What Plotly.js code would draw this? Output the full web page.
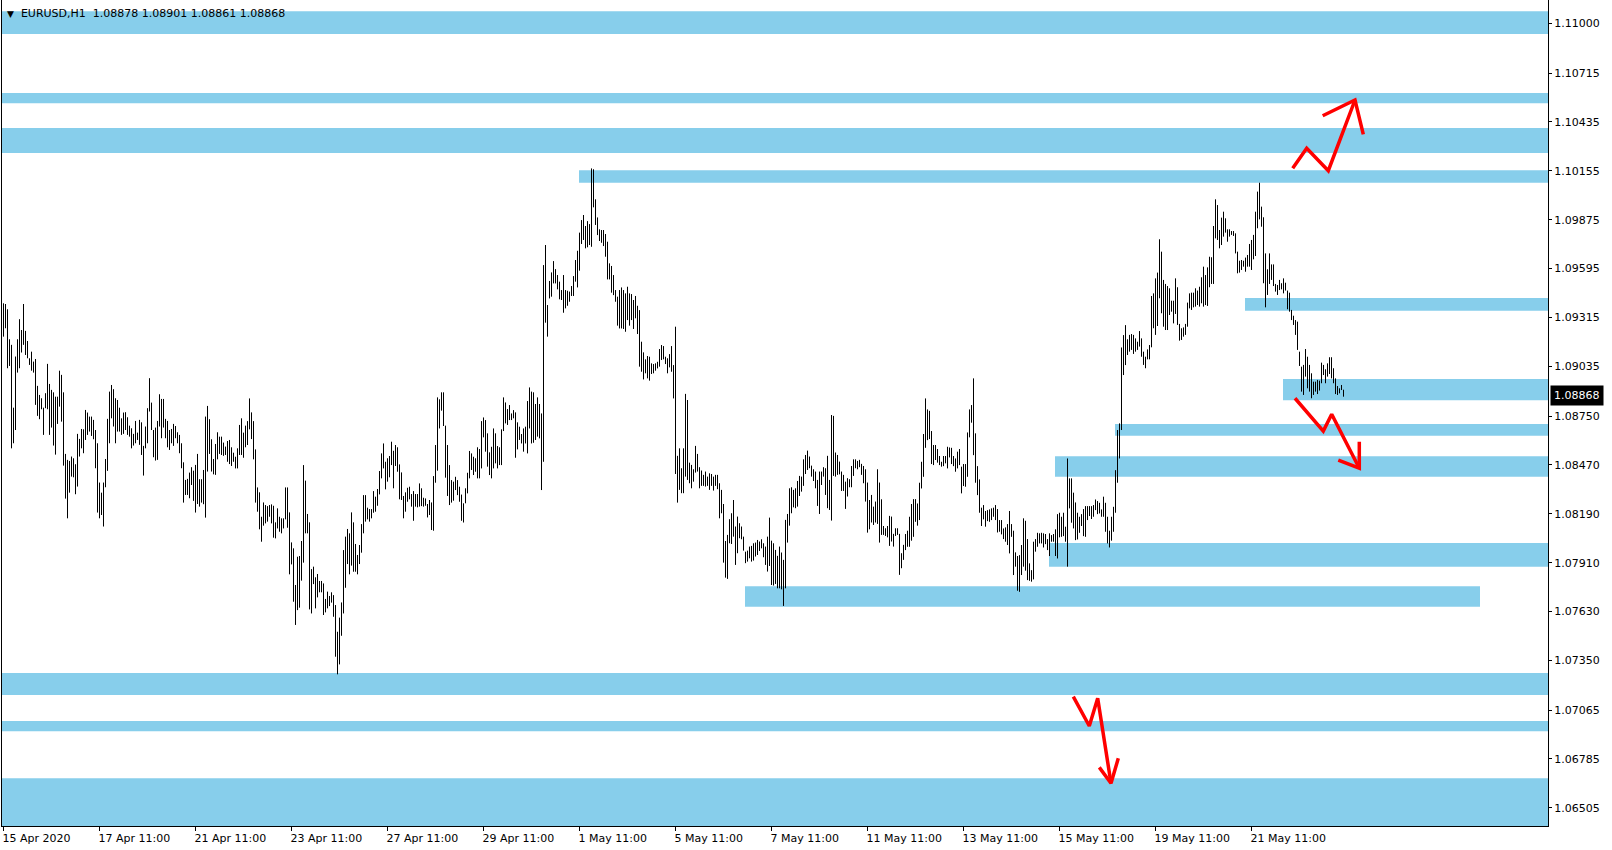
<!DOCTYPE html>
<html>
<head>
<meta charset="utf-8">
<script src="https://cdn.plot.ly/plotly-3.0.1.min.js"></script>
<style>
html,body{margin:0;padding:0;background:#ffffff;}
#chart{width:1612px;height:850px;}
</style>
</head>
<body>
<div id="chart"></div>
<script>
// ---------- DATA ----------
const symbolName = "EURUSD,H1";
const lastOpen = 1.08878;
const lastClose = 1.08868;

// H1 bar highs / lows (bar 0 = 15 Apr 2020 11:00)
const barHigh = [
1.09396,1.09392,1.09362,1.09190,1.09158,1.08798,1.09091,1.09190,1.09305,1.09243,
1.09392,1.09238,1.09180,1.09081,1.09119,1.09062,1.09077,1.08923,1.08871,1.08852,
1.08798,1.08881,1.09049,1.08934,1.08900,1.08886,1.08861,1.08861,1.09010,1.08986,
1.08886,1.08533,1.08499,1.08493,1.08518,1.08508,1.08474,1.08648,1.08619,1.08676,
1.08674,1.08785,1.08770,1.08747,1.08747,1.08728,1.08670,1.08594,1.08369,1.08311,
1.08369,1.08504,1.08734,1.08890,1.08928,1.08904,1.08852,1.08842,1.08798,1.08737,
1.08770,1.08772,1.08743,1.08695,1.08680,1.08648,1.08722,1.08655,1.08728,1.08714,
1.08579,1.08690,1.08795,1.08967,1.08827,1.08670,1.08684,1.08722,1.08875,1.08848,
1.08848,1.08734,1.08722,1.08670,1.08676,1.08705,1.08693,1.08657,1.08642,1.08594,
1.08485,1.08384,1.08390,1.08426,1.08457,1.08437,1.08470,1.08533,1.08388,1.08388,
1.08441,1.08747,1.08808,1.08732,1.08617,1.08504,1.08590,1.08657,1.08632,1.08632,
1.08598,1.08575,1.08607,1.08613,1.08571,1.08540,1.08517,1.08565,1.08699,1.08737,
1.08655,1.08695,1.08721,1.08851,1.08771,1.08721,1.08559,1.08341,1.08313,1.08173,
1.08255,1.08240,1.08234,1.08240,1.08244,1.08236,1.08141,1.08221,1.08173,1.08164,
1.08164,1.08341,1.08341,1.08198,1.08026,1.07992,1.07782,1.07944,1.07948,1.08034,
1.08469,1.08380,1.08189,1.08141,1.07873,1.07887,1.07826,1.07845,1.07805,1.07805,
1.07791,1.07702,1.07744,1.07719,1.07740,1.07724,1.07667,1.07514,1.07595,1.07682,
1.07982,1.08059,1.08103,1.08078,1.08198,1.08141,1.08017,1.07954,1.08011,1.08131,
1.08297,1.08297,1.08225,1.08217,1.08217,1.08320,1.08288,1.08332,1.08435,1.08536,
1.08593,1.08488,1.08508,1.08521,1.08603,1.08551,1.08584,1.08571,1.08473,1.08427,
1.08292,1.08313,1.08339,1.08345,1.08303,1.08320,1.08303,1.08303,1.08364,1.08336,
1.08282,1.08278,1.08246,1.08269,1.08255,1.08406,1.08584,1.08857,1.08846,1.08886,
1.08886,1.08695,1.08584,1.08469,1.08383,1.08374,1.08402,1.08383,1.08345,1.08300,
1.08250,1.08336,1.08425,1.08550,1.08536,1.08517,1.08508,1.08571,1.08561,1.08721,
1.08742,1.08727,1.08651,1.08542,1.08574,1.08679,1.08651,1.08578,1.08571,1.08674,
1.08857,1.08828,1.08790,1.08813,1.08765,1.08784,1.08771,1.08714,1.08689,1.08647,
1.08679,1.08689,1.08836,1.08914,1.08890,1.08886,1.08819,1.08857,1.08819,1.08765,
1.09615,1.09730,1.09386,1.09524,1.09573,1.09638,1.09592,1.09558,1.09520,1.09472,
1.09558,1.09472,1.09468,1.09463,1.09495,1.09552,1.09644,1.09697,1.09801,1.09873,
1.09902,1.09839,1.09867,1.09850,1.10169,1.10164,1.09992,1.09888,1.09820,1.09816,
1.09816,1.09793,1.09749,1.09625,1.09610,1.09558,1.09472,1.09434,1.09472,1.09487,
1.09472,1.09453,1.09491,1.09453,1.09449,1.09415,1.09438,1.09382,1.09357,1.09176,
1.09115,1.09075,1.09094,1.09090,1.09052,1.09048,1.09052,1.09061,1.09134,1.09157,
1.09151,1.09090,1.09081,1.09105,1.09151,1.09042,1.09262,1.08522,1.08565,1.08451,
1.08565,1.08877,1.08842,1.08483,1.08470,1.08445,1.08579,1.08533,1.08457,1.08438,
1.08413,1.08432,1.08403,1.08422,1.08418,1.08403,1.08413,1.08413,1.08365,1.08327,
1.08246,1.08034,1.08069,1.08159,1.08193,1.08269,1.08117,1.08174,1.08136,1.08117,
1.08059,1.07973,1.07979,1.08002,1.08006,1.08021,1.08025,1.08040,1.08031,1.08044,
1.08021,1.08002,1.08059,1.08168,1.08036,1.08021,1.07983,1.07949,1.08002,1.07968,
1.07926,1.08155,1.08189,1.08336,1.08342,1.08327,1.08336,1.08378,1.08407,1.08403,
1.08502,1.08527,1.08552,1.08518,1.08466,1.08445,1.08432,1.08384,1.08432,1.08432,
1.08457,1.08451,1.08522,1.08384,1.08756,1.08751,1.08541,1.08527,1.08489,1.08432,
1.08413,1.08374,1.08394,1.08388,1.08464,1.08502,1.08502,1.08493,1.08499,1.08476,
1.08464,1.08445,1.08369,1.08269,1.08298,1.08231,1.08260,1.08445,1.08369,1.08273,
1.08120,1.08107,1.08120,1.08178,1.08174,1.08075,1.08107,1.08107,1.08075,1.07964,
1.08012,1.08074,1.08093,1.08173,1.08246,1.08274,1.08274,1.08249,1.08368,1.08488,
1.08647,1.08851,1.08788,1.08780,1.08664,1.08584,1.08584,1.08561,1.08521,1.08488,
1.08521,1.08521,1.08574,1.08570,1.08568,1.08521,1.08507,1.08546,1.08561,1.08460,
1.08475,1.08475,1.08656,1.08788,1.08813,1.08966,1.08651,1.08463,1.08387,1.08225,
1.08240,1.08206,1.08211,1.08215,1.08221,1.08225,1.08240,1.08217,1.08154,1.08154,
1.08106,1.08112,1.08131,1.08206,1.08131,1.08093,1.07969,1.07948,1.07953,1.08011,
1.08164,1.08150,1.08045,1.07906,1.07867,1.08030,1.08045,1.08081,1.08078,1.08081,
1.08078,1.08074,1.08045,1.08078,1.08068,1.08074,1.08101,1.08188,1.08196,1.08173,
1.08196,1.08116,1.08507,1.08393,1.08393,1.08311,1.08255,1.08196,1.08173,1.08188,
1.08217,1.08234,1.08234,1.08234,1.08234,1.08240,1.08272,1.08263,1.08253,1.08215,
1.08288,1.08253,1.08173,1.08093,1.08173,1.08230,1.08440,1.08670,1.08708,1.09143,
1.09214,1.09271,1.09190,1.09215,1.09220,1.09215,1.09195,1.09176,1.09237,1.09195,
1.09119,1.09090,1.09132,1.09157,1.09438,1.09453,1.09539,1.09572,1.09763,1.09692,
1.09530,1.09507,1.09495,1.09482,1.09411,1.09411,1.09539,1.09488,1.09278,1.09253,
1.09258,1.09278,1.09400,1.09453,1.09457,1.09457,1.09482,1.09469,1.09491,1.09545,
1.09606,1.09558,1.09602,1.09663,1.09660,1.09839,1.09992,1.09959,1.09816,1.09887,
1.09921,1.09883,1.09820,1.09820,1.09810,1.09810,1.09797,1.09692,1.09640,1.09644,
1.09640,1.09658,1.09673,1.09736,1.09759,1.09788,1.09921,1.10036,1.10087,1.09950,
1.09889,1.09682,1.09591,1.09682,1.09619,1.09619,1.09507,1.09501,1.09530,1.09511,
1.09539,1.09514,1.09469,1.09457,1.09358,1.09325,1.09300,1.09291,1.09119,1.09033,
1.09043,1.09134,1.09090,1.09043,1.08995,1.08947,1.08947,1.08957,1.08953,1.09056,
1.09043,1.09018,1.09052,1.09087,1.09087,1.09024,1.08966,1.08922,1.08909,1.08928,
1.08901];

const barLow = [
1.09205,1.09253,1.09024,1.09037,1.08565,1.08594,1.08670,1.08999,1.09024,1.09114,
1.09158,1.09100,1.09081,1.09043,1.09010,1.08999,1.08814,1.08751,1.08732,1.08789,
1.08642,1.08795,1.08789,1.08642,1.08684,1.08581,1.08529,1.08705,1.08804,1.08718,
1.08466,1.08277,1.08164,1.08311,1.08403,1.08399,1.08302,1.08346,1.08518,1.08565,
1.08537,1.08613,1.08642,1.08661,1.08636,1.08617,1.08451,1.08197,1.08164,1.08183,
1.08117,1.08342,1.08436,1.08594,1.08737,1.08690,1.08594,1.08661,1.08661,1.08642,
1.08648,1.08670,1.08642,1.08632,1.08565,1.08581,1.08594,1.08613,1.08585,1.08527,
1.08409,1.08565,1.08594,1.08776,1.08670,1.08514,1.08495,1.08499,1.08690,1.08623,
1.08684,1.08623,1.08571,1.08556,1.08594,1.08579,1.08623,1.08594,1.08537,1.08451,
1.08254,1.08298,1.08298,1.08279,1.08355,1.08264,1.08197,1.08246,1.08231,1.08254,
1.08245,1.08168,1.08432,1.08533,1.08432,1.08416,1.08413,1.08502,1.08533,1.08527,
1.08522,1.08527,1.08488,1.08475,1.08464,1.08488,1.08450,1.08450,1.08527,1.08527,
1.08511,1.08571,1.08584,1.08674,1.08618,1.08502,1.08254,1.08202,1.08101,1.08030,
1.08122,1.08135,1.08145,1.08173,1.08135,1.08053,1.08049,1.08106,1.08087,1.08078,
1.08106,1.08158,1.08110,1.07843,1.07900,1.07686,1.07553,1.07638,1.07652,1.07807,
1.07910,1.08078,1.08078,1.07642,1.07619,1.07787,1.07648,1.07711,1.07740,1.07740,
1.07610,1.07625,1.07648,1.07661,1.07681,1.07600,1.07371,1.07270,1.07327,1.07491,
1.07619,1.07766,1.07902,1.07843,1.07893,1.07858,1.07858,1.07843,1.07902,1.07967,
1.08078,1.08145,1.08158,1.08145,1.08164,1.08196,1.08202,1.08236,1.08301,1.08393,
1.08450,1.08330,1.08374,1.08399,1.08469,1.08336,1.08464,1.08431,1.08273,1.08269,
1.08164,1.08202,1.08259,1.08273,1.08231,1.08150,1.08231,1.08227,1.08231,1.08234,
1.08231,1.08236,1.08169,1.08183,1.08097,1.08093,1.08368,1.08437,1.08679,1.08781,
1.08693,1.08397,1.08292,1.08240,1.08254,1.08265,1.08326,1.08297,1.08259,1.08150,
1.08140,1.08250,1.08307,1.08393,1.08441,1.08412,1.08431,1.08393,1.08393,1.08450,
1.08628,1.08546,1.08460,1.08412,1.08393,1.08450,1.08479,1.08450,1.08469,1.08469,
1.08664,1.08708,1.08699,1.08727,1.08727,1.08737,1.08511,1.08559,1.08613,1.08593,
1.08546,1.08593,1.08536,1.08679,1.08593,1.08597,1.08613,1.08632,1.08622,1.08326,
1.08488,1.09285,1.09205,1.09424,1.09434,1.09510,1.09510,1.09476,1.09419,1.09415,
1.09342,1.09367,1.09382,1.09405,1.09438,1.09438,1.09520,1.09487,1.09583,1.09736,
1.09759,1.09711,1.09717,1.09730,1.09720,1.09946,1.09845,1.09787,1.09753,1.09743,
1.09724,1.09663,1.09533,1.09533,1.09457,1.09443,1.09405,1.09268,1.09252,1.09252,
1.09249,1.09233,1.09300,1.09268,1.09300,1.09249,1.09310,1.09220,1.09033,1.09004,
1.08960,1.08995,1.08966,1.08953,1.08991,1.08995,1.09010,1.09023,1.09033,1.09071,
1.09075,1.09048,1.08995,1.09029,1.09004,1.08851,1.08418,1.08254,1.08327,1.08308,
1.08308,1.08403,1.08384,1.08365,1.08336,1.08374,1.08426,1.08432,1.08336,1.08350,
1.08350,1.08346,1.08350,1.08327,1.08350,1.08323,1.08350,1.08331,1.08164,1.08193,
1.07910,1.07824,1.07817,1.08021,1.08017,1.08059,1.07897,1.07964,1.08050,1.08044,
1.07979,1.07907,1.07916,1.07935,1.07916,1.07922,1.07945,1.07954,1.07977,1.07992,
1.07941,1.07897,1.07859,1.07891,1.07782,1.07779,1.07788,1.07763,1.07763,1.07757,
1.07662,1.07763,1.08025,1.08122,1.08193,1.08227,1.08222,1.08231,1.08292,1.08317,
1.08350,1.08418,1.08441,1.08451,1.08403,1.08378,1.08336,1.08235,1.08189,1.08355,
1.08403,1.08298,1.08222,1.08212,1.08151,1.08407,1.08403,1.08413,1.08416,1.08321,
1.08321,1.08218,1.08289,1.08342,1.08342,1.08407,1.08451,1.08445,1.08457,1.08413,
1.08365,1.08260,1.08082,1.08101,1.08140,1.08126,1.08140,1.08132,1.08025,1.08069,
1.08069,1.08063,1.08055,1.08006,1.08031,1.08002,1.08063,1.08069,1.07840,1.07878,
1.07926,1.07982,1.08001,1.08001,1.08036,1.08058,1.08144,1.08122,1.08154,1.08335,
1.08402,1.08568,1.08612,1.08618,1.08475,1.08469,1.08498,1.08483,1.08469,1.08460,
1.08463,1.08479,1.08450,1.08513,1.08475,1.08463,1.08431,1.08450,1.08469,1.08307,
1.08349,1.08345,1.08402,1.08628,1.08712,1.08526,1.08368,1.08297,1.08196,1.08120,
1.08158,1.08116,1.08148,1.08144,1.08154,1.08173,1.08154,1.08083,1.08087,1.08072,
1.08045,1.08030,1.08011,1.07963,1.08058,1.07839,1.07887,1.07749,1.07743,1.07839,
1.07887,1.07864,1.07810,1.07806,1.07801,1.07814,1.07973,1.08001,1.08020,1.08020,
1.07997,1.08016,1.07982,1.07948,1.08030,1.08030,1.07948,1.07934,1.08055,1.08058,
1.08062,1.08030,1.07887,1.08221,1.08139,1.08106,1.08039,1.08043,1.08081,1.08120,
1.08062,1.08058,1.08154,1.08177,1.08160,1.08173,1.08211,1.08188,1.08192,1.08173,
1.08173,1.08087,1.08020,1.07997,1.08036,1.08087,1.08196,1.08368,1.08507,1.08670,
1.08985,1.09042,1.09100,1.09119,1.09129,1.09106,1.09119,1.09129,1.09148,1.09090,
1.09043,1.09024,1.09075,1.09075,1.09144,1.09253,1.09215,1.09266,1.09425,1.09339,
1.09262,1.09243,1.09243,1.09329,1.09348,1.09281,1.09335,1.09272,1.09182,1.09186,
1.09205,1.09215,1.09262,1.09367,1.09358,1.09373,1.09377,1.09386,1.09377,1.09396,
1.09377,1.09386,1.09381,1.09488,1.09507,1.09507,1.09768,1.09759,1.09711,1.09730,
1.09778,1.09801,1.09749,1.09778,1.09788,1.09782,1.09682,1.09568,1.09572,1.09587,
1.09606,1.09577,1.09606,1.09606,1.09587,1.09648,1.09667,1.09826,1.09877,1.09835,
1.09511,1.09373,1.09444,1.09507,1.09530,1.09495,1.09463,1.09444,1.09472,1.09476,
1.09453,1.09469,1.09362,1.09348,1.09300,1.09272,1.09215,1.09129,1.09037,1.08890,
1.08871,1.08976,1.08909,1.08890,1.08852,1.08871,1.08890,1.08876,1.08896,1.08938,
1.08985,1.08938,1.08976,1.08991,1.08966,1.08938,1.08876,1.08871,1.08880,1.08899,
1.08861];

// time axis labels (every 48 H1 bars)
const timeTickIndex = [0,48,96,144,192,240,288,336,384,432,480,528,576,624];
const timeTickLabels = ["15 Apr 2020","17 Apr 11:00","21 Apr 11:00","23 Apr 11:00","27 Apr 11:00",
  "29 Apr 11:00","1 May 11:00","5 May 11:00","7 May 11:00","11 May 11:00","13 May 11:00",
  "15 May 11:00","19 May 11:00","21 May 11:00"];

// price axis labels
const priceTicks = [1.11000,1.10715,1.10435,1.10155,1.09875,1.09595,1.09315,1.09035,1.08750,
  1.08470,1.08190,1.07910,1.07630,1.07350,1.07065,1.06785,1.06505];

// supply/demand zones (price top, price bottom, start bar, end bar; null = chart edge)
const zoneTop    = [1.11070,1.10601,1.10400,1.10159,1.09426,1.08962,1.08704,1.08520,1.08022,1.07775,1.07277,1.07002,1.06675];
const zoneBottom = [1.10939,1.10543,1.10257,1.10087,1.09353,1.08841,1.08637,1.08402,1.07886,1.07657,1.07151,1.06944,1.06300];
const zoneStart  = [null,null,null,287.75,620.75,639.75,555.75,525.75,522.75,370.75,null,null,null];
const zoneEnd    = [null,null,null,null,null,null,null,null,null,738.25,null,null,null];

// hand-drawn red arrows (bar index, price)
const arrowUpX = [644.6,651.6,662.4,675.75];
const arrowUpY = [1.10170,1.10284,1.10156,1.10561];
const arrowUpHeadX = [659.6,675.75,679.9];
const arrowUpHeadY = [1.10471,1.10561,1.10364];
const arrowDownX = [645.75,659.9,664.1,677.9];
const arrowDownY = [1.08852,1.08664,1.08760,1.08451];
const arrowDownHeadX = [667.4,677.9,677.9];
const arrowDownHeadY = [1.08498,1.08451,1.08603];
const arrowLowX = [534.9,542.9,547.1,553.75];
const arrowLowY = [1.07142,1.06974,1.07133,1.06646];
const arrowLowHeadX = [547.9,553.75,557.4];
const arrowLowHeadY = [1.06737,1.06646,1.06789];

// ---------- CHART ----------
const xRange = [-0.75, 772.25];
const yRange = [1.06401, 1.11134];
const FONT = "DejaVu Sans, Tahoma, sans-serif";

const n = Math.min(barHigh.length, barLow.length);
const bx = [], by = [];
for (let i = 0; i < n; i++) {
  bx.push(i, i, null);
  by.push(barLow[i], barHigh[i], null);
}

function arrowTrace(xs, ys, hx, hy) {
  return {
    type: 'scatter', mode: 'lines',
    x: xs.concat([null], hx), y: ys.concat([null], hy),
    line: {color: '#ff0000', width: 3.5},
    hoverinfo: 'skip', showlegend: false
  };
}

const traces = [
  {type:'scatter', mode:'lines', x: bx, y: by,
   line:{color:'#000000', width:1}, hoverinfo:'skip', showlegend:false},
  arrowTrace(arrowUpX, arrowUpY, arrowUpHeadX, arrowUpHeadY),
  arrowTrace(arrowDownX, arrowDownY, arrowDownHeadX, arrowDownHeadY),
  arrowTrace(arrowLowX, arrowLowY, arrowLowHeadX, arrowLowHeadY)
];

const shapes = zoneTop.map((t, k) => ({
  type:'rect', layer:'below', xref:'x', yref:'y',
  x0: zoneStart[k] === null ? xRange[0] - 5 : zoneStart[k],
  x1: zoneEnd[k] === null ? xRange[1] + 5 : zoneEnd[k],
  y0: zoneBottom[k], y1: t,
  fillcolor:'#87CEEB', line:{width:0}
}));

const layout = {
  width: 1612, height: 850,
  margin: {l:2, r:64, t:0, b:24, pad:0},
  paper_bgcolor:'#ffffff', plot_bgcolor:'#ffffff',
  showlegend:false,
  font:{family:FONT, size:11, color:'#000000'},
  xaxis:{
    range: xRange, type:'linear', fixedrange:true,
    showgrid:false, zeroline:false,
    showline:true, linecolor:'#000000', linewidth:1,
    tickmode:'array', tickvals: timeTickIndex, ticktext: timeTickLabels,
    ticks:'outside', ticklen:4, tickwidth:1, tickcolor:'#000000',
    ticklabelposition:'outside right',
    ticklabelstandoff:2, ticklabelshift:-2,
    tickfont:{family:FONT, size:11, color:'#000000'}
  },
  yaxis:{
    range: yRange, type:'linear', side:'right', fixedrange:true,
    showgrid:false, zeroline:false,
    showline:true, mirror:true, linecolor:'#000000', linewidth:1,
    tickmode:'array', tickvals: priceTicks, ticktext: priceTicks.map(v => v.toFixed(5)),
    ticks:'outside', ticklen:3, tickwidth:1, tickcolor:'#000000',
    tickfont:{family:FONT, size:11, color:'#000000'}
  },
  shapes: shapes,
  annotations: [
    {xref:'paper', yref:'paper', x:0, y:1, xanchor:'left', yanchor:'top',
     xshift:3, yshift:-5, showarrow:false, align:'left',
     text:'<span style="font-size:9px">▼</span>  ' + symbolName + '  ' +
          lastOpen.toFixed(5) + ' ' + barHigh[n-1].toFixed(5) + ' ' +
          barLow[n-1].toFixed(5) + ' ' + lastClose.toFixed(5),
     font:{family:FONT, size:11, color:'#000000'}},
    {xref:'paper', yref:'y', x:1, y:lastClose, xanchor:'left', yanchor:'middle',
     xshift:2, showarrow:false, text:lastClose.toFixed(5),
     bgcolor:'#000000', borderpad:3,
     font:{family:FONT, size:11, color:'#ffffff'}}
  ]
};

Plotly.newPlot('chart', traces, layout, {displayModeBar:false, staticPlot:true});
</script>
</body>
</html>
